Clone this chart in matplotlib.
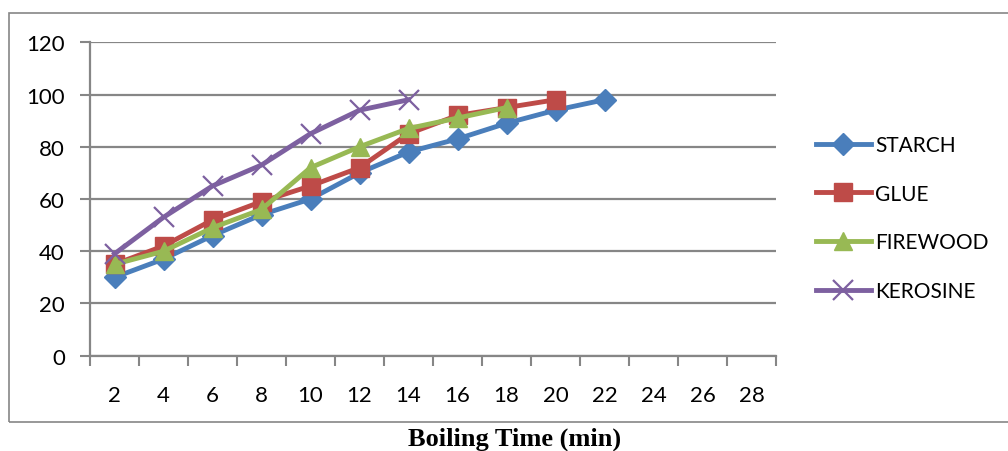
# Boiling time chart, Excel-like style

import matplotlib.pyplot as plt
from matplotlib.patches import Rectangle

# Data

times = ['2', '4', '6', '8', '10', '12', '14', '16', '18', '20', '22', '24', '26', '28']

starch = [30, 37, 46, 54, 60, 70, 78, 83, 89, 94, 98]
glue = [35, 42, 52, 59, 65, 72, 85, 92, 95, 98]
firewood = [35, 40, 49, 56, 72, 80, 87, 91, 95]
kerosine = [39, 53, 65, 73, 85, 94, 98]

series_names = ['STARCH', 'GLUE', 'FIREWOOD', 'KEROSINE']
series_data = [starch, glue, firewood, kerosine]
series_colors = ['#4A7EBB', '#BE4B48', '#98B954', '#7D60A0']
series_markers = ['D', 's', '^', 'x']
marker_sizes = [11, 13, 13, 14]

grey = '#868686'

fig = plt.figure(figsize=(10.08, 4.52), dpi=100)
ax = fig.add_axes([90/1008, 1 - 356.7/452, 686/1008, 313.4/452])

# Outer chart border
fig.patches.append(Rectangle((9/1008, 1 - 423/452), 1100/1008, 409/452,
                             transform=fig.transFigure, fill=False,
                             edgecolor=grey, linewidth=1.2, clip_on=False))

for name, vals, col, mk, ms in zip(series_names, series_data, series_colors,
                                   series_markers, marker_sizes):
    xs = list(range(len(vals)))
    if mk == 'x':
        ax.plot(xs, vals, color=col, linewidth=3.5, marker=mk, markersize=ms,
                markeredgewidth=1.6, label=name, clip_on=False, zorder=3)
    else:
        ax.plot(xs, vals, color=col, linewidth=3.5, marker=mk, markersize=ms,
                markeredgecolor=col, label=name, clip_on=False, zorder=3)

ax.set_xlim(-0.5, len(times) - 0.5)
ax.set_ylim(0, 120)
ax.set_yticks(range(0, 121, 20))
ax.yaxis.grid(True, color=grey, linewidth=1.6)
ax.set_axisbelow(True)

# Ticks between categories, labels at centres
ax.set_xticks([i - 0.5 for i in range(len(times) + 1)])
ax.set_xticklabels([])
ax.set_xticks(range(len(times)), minor=True)
ax.set_xticklabels(times, minor=True)
ax.tick_params(axis='x', which='major', length=7, width=1.5, color=grey)
ax.tick_params(axis='x', which='minor', length=0, pad=21, labelsize=16)
ax.tick_params(axis='y', length=7, width=1.5, color=grey, pad=11, labelsize=16)

for lab in ax.get_xticklabels(minor=True) + ax.get_yticklabels():
    lab.set_fontfamily('Lato')

for s in ['top', 'right']:
    ax.spines[s].set_visible(False)
for s in ['left', 'bottom']:
    ax.spines[s].set_color(grey)
    ax.spines[s].set_linewidth(1.6)

fig.legend(loc='center left', bbox_to_anchor=(797/1008, 1 - 219/452),
           frameon=False, prop={'family': 'Lato', 'size': 15},
           handlelength=2.65, handletextpad=0.2, labelspacing=1.38)

fig.text(515/1008, 1 - 439/452, 'Boiling Time (min)', ha='center', va='center',
         fontsize=19, fontweight='bold', fontfamily='Liberation Serif')

fig.savefig('out.png', dpi=100)
